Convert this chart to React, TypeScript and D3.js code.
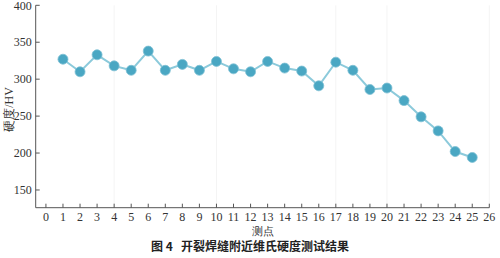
import React from "react";
import * as d3 from "d3";

const points = [1, 2, 3, 4, 5, 6, 7, 8, 9, 10, 11, 12, 13, 14, 15, 16, 17, 18, 19, 20, 21, 22, 23, 24, 25];
const hardness = [327, 310, 333, 318, 312, 338, 312, 320, 312, 324, 314, 310, 324, 315, 311, 291, 323, 312, 286, 288, 271, 249, 230, 202, 194];
const xTicks = d3.range(0, 27);
const yTicks = [150, 200, 250, 300, 350, 400];

const W = 500, H = 258;
const x = d3.scaleLinear().domain([-0.6, 26]).range([35.7, 489.3]);
const y = d3.scaleLinear().domain([126, 400]).range([207.7, 5.3]);

export default function App() {
  const data = points.map((p, i) => ({ p, v: hardness[i] }));
  const line = d3.line<{ p: number; v: number }>().x(d => x(d.p)).y(d => y(d.v));
  const serif = "'Liberation Serif', 'DejaVu Serif', serif";
  const [x0, x1] = x.range();
  const [yb, yt] = y.range();
  return (
    <svg width={W} height={H} style={{ position: "absolute", left: 0, top: 0, background: "#fff" }}>
      <rect width={W} height={H} fill="#fff" />
      {[4, 10, 17, 20, 26].map(t => (
        <line key={t} x1={x(t)} x2={x(t)} y1={yt} y2={yb} stroke="#f4f4f4" strokeWidth={1} />
      ))}
      <line x1={x0} x2={x0} y1={yt} y2={yb} stroke="#555" strokeWidth={1} />
      <line x1={x0} x2={x1} y1={yb} y2={yb} stroke="#555" strokeWidth={1} />
      {yTicks.map(t => (
        <g key={t}>
          <line x1={x0} x2={x0 + 4} y1={y(t)} y2={y(t)} stroke="#555" />
          <text x={x0 - 4} y={y(t)} dy="0.35em" textAnchor="end" fontFamily={serif} fontSize={12} fill="#333">{t}</text>
        </g>
      ))}
      {xTicks.map(t => (
        <g key={t}>
          <line x1={x(t)} x2={x(t)} y1={yb} y2={yb - 4} stroke="#555" />
          <text x={x(t)} y={yb + 13} textAnchor="middle" fontFamily={serif} fontSize={12} fill="#333">{t}</text>
        </g>
      ))}
      <text transform={`translate(13,${(yt + yb) / 2 + 3}) rotate(-90)`} textAnchor="middle" fontFamily={serif} fontSize={12} fill="#333">硬度/HV</text>
      <text x={(x0 + x1) / 2} y={234.5} textAnchor="middle" fontFamily={serif} fontSize={11} fill="#333">测点</text>
      <path d={line(data) || ""} fill="none" stroke="#8ccadb" strokeWidth={2} />
      {data.map(d => (
        <circle key={d.p} cx={x(d.p)} cy={y(d.v)} r={5} fill="#4aa7c3" stroke="#7fc0d4" strokeWidth={0.8} />
      ))}
      <text x={250} y={251} textAnchor="middle" fontFamily="'Noto Sans CJK SC', sans-serif" fontSize={12} fontWeight="bold" fill="#222" xmlSpace="preserve">图 4   开裂焊缝附近维氏硬度测试结果</text>
    </svg>
  );
}
